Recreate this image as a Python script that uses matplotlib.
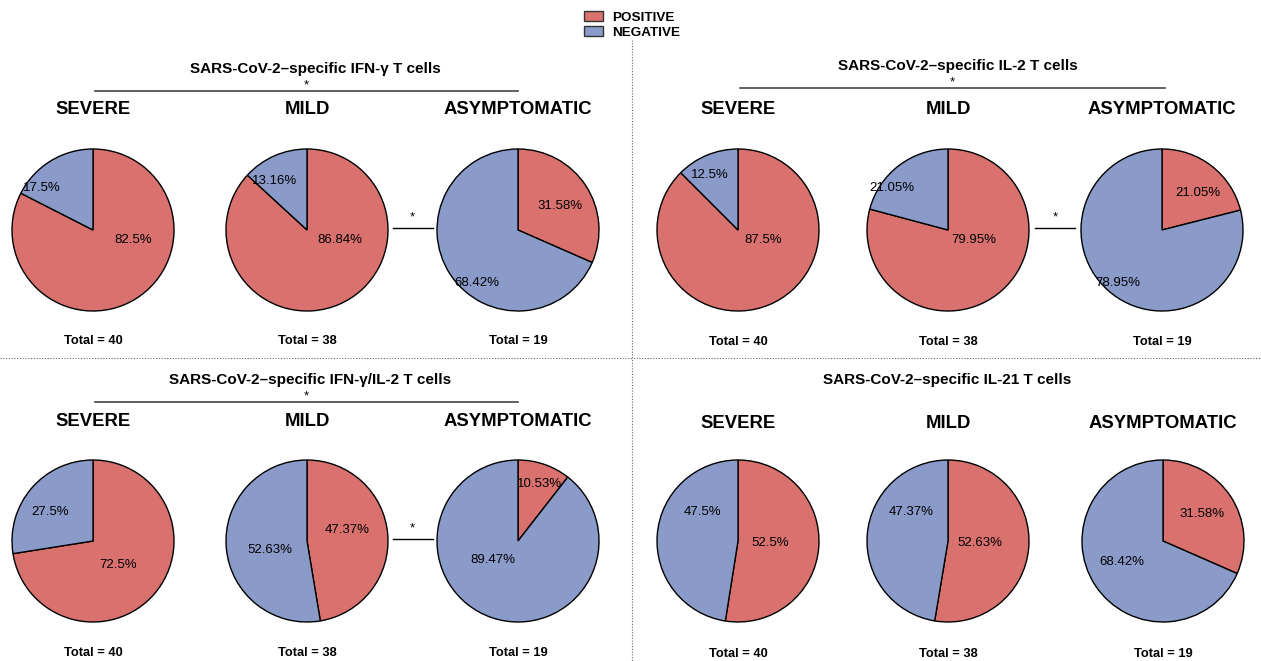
import matplotlib.pyplot as plt
from matplotlib.lines import Line2D
from matplotlib.patches import Patch

plt.rcParams['font.family'] = ['Liberation Sans', 'DejaVu Sans']

W, H = 1261, 661

groups = ['SEVERE', 'MILD', 'ASYMPTOMATIC']
totals = [40, 38, 19]
panel_titles = [
    'SARS-CoV-2\u2013specific IFN-\u03b3 T cells',
    'SARS-CoV-2\u2013specific IL-2 T cells',
    'SARS-CoV-2\u2013specific IFN-\u03b3/IL-2 T cells',
    'SARS-CoV-2\u2013specific IL-21 T cells',
]
positive = [
    [82.5, 86.84, 31.58],
    [87.5, 79.95, 21.05],
    [72.5, 47.37, 10.53],
    [52.5, 52.63, 31.58],
]
negative = [
    [17.5, 13.16, 68.42],
    [12.5, 21.05, 78.95],
    [27.5, 52.63, 89.47],
    [47.5, 47.37, 68.42],
]
overall_sig = [True, True, True, False]
mild_asym_sig = [True, True, True, False]

RED = '#d9716f'
BLUE = '#8a9bc9'

# layout in pixels
R = 81
col_x = [[93, 307, 518], [738, 948, 1162], [93, 307, 518], [738, 948, 1163]]
row_y = [230, 230, 541, 541]
title_y = [69, 66, 380, 380]
title_x = [315, 958, 310, 947]
bar_x = [(95, 518), (740, 1165), (95, 518), None]
label_y = [110, 110, 422, 423]
total_y = [341, 342, 653, 654]

# percentage label offsets (in pie radii): (pos_dx, pos_dy, neg_dx, neg_dy)
lab_off = [
    [(0.49, -0.12, -0.63, 0.52), (0.41, -0.12, -0.40, 0.60), (0.52, 0.30, -0.51, -0.65)],
    [(0.31, -0.12, -0.35, 0.68), (0.32, -0.12, -0.69, 0.52), (0.44, 0.46, -0.54, -0.65)],
    [(0.31, -0.30, -0.53, 0.36), (0.49, 0.14, -0.46, -0.11), (0.27, 0.70, -0.31, -0.23)],
    [(0.40, -0.02, -0.44, 0.36), (0.40, -0.02, -0.46, 0.36), (0.48, 0.33, -0.51, -0.26)],
]

fig = plt.figure(figsize=(W / 100, H / 100), dpi=100)


def ftext(x, y, s, **kw):
    fig.text(x / W, 1 - y / H, s, ha='center', va='center', **kw)


def fline(x0, x1, y0, y1, **kw):
    fig.add_artist(Line2D([x0 / W, x1 / W], [1 - y0 / H, 1 - y1 / H],
                          transform=fig.transFigure, **kw))


pad = 1.05
for p in range(4):
    cy = row_y[p]
    ftext(title_x[p], title_y[p], panel_titles[p], fontsize=11, fontweight='bold')
    if overall_sig[p]:
        x0, x1 = bar_x[p]
        fline(x0, x1, title_y[p] + 22, title_y[p] + 22, color='#444444', lw=1.2)
        ftext((x0 + x1) / 2, title_y[p] + 16, '*', fontsize=9.5)
    for g in range(3):
        cx = col_x[p][g]
        ftext(cx, label_y[p], groups[g], fontsize=13.3, fontweight='bold')
        ftext(cx, total_y[p], f'Total = {totals[g]}', fontsize=9.3, fontweight='bold')
        size = 2 * R * pad
        ax = fig.add_axes([(cx - size / 2) / W, 1 - (cy + size / 2) / H, size / W, size / H])
        vals = [positive[p][g], negative[p][g]]
        ax.pie(vals, colors=[RED, BLUE], startangle=90, counterclock=False,
               wedgeprops=dict(edgecolor='black', linewidth=1))
        ax.set_xlim(-pad, pad)
        ax.set_ylim(-pad, pad)
        o = lab_off[p][g]
        ax.text(o[0], o[1], f'{vals[0]:g}%', ha='center', va='center', fontsize=9.5)
        ax.text(o[2], o[3], f'{vals[1]:g}%', ha='center', va='center', fontsize=9.5)
    if mild_asym_sig[p]:
        mx = (col_x[p][1] + col_x[p][2]) / 2
        fline(mx - 20, mx + 20, cy - 2, cy - 2, color='black', lw=1)
        ftext(mx, cy - 13, '*', fontsize=9.5)

# dividers
fline(0, W, 358, 358, color='#666666', lw=0.8, ls=(0, (1, 1.5)))
fline(632, 632, 40, H, color='#666666', lw=0.8, ls=(0, (1, 1.5)))

handles = [Patch(facecolor=RED, edgecolor='#333333', label='POSITIVE'),
           Patch(facecolor=BLUE, edgecolor='#333333', label='NEGATIVE')]
fig.legend(handles=handles, loc='center', bbox_to_anchor=(632 / W, 1 - 25 / H),
           frameon=False, prop=dict(weight='bold', size=9.7), handlelength=1.4,
           handleheight=0.8, labelspacing=0.15, handletextpad=0.7)

fig.savefig('out.png', dpi=100)
